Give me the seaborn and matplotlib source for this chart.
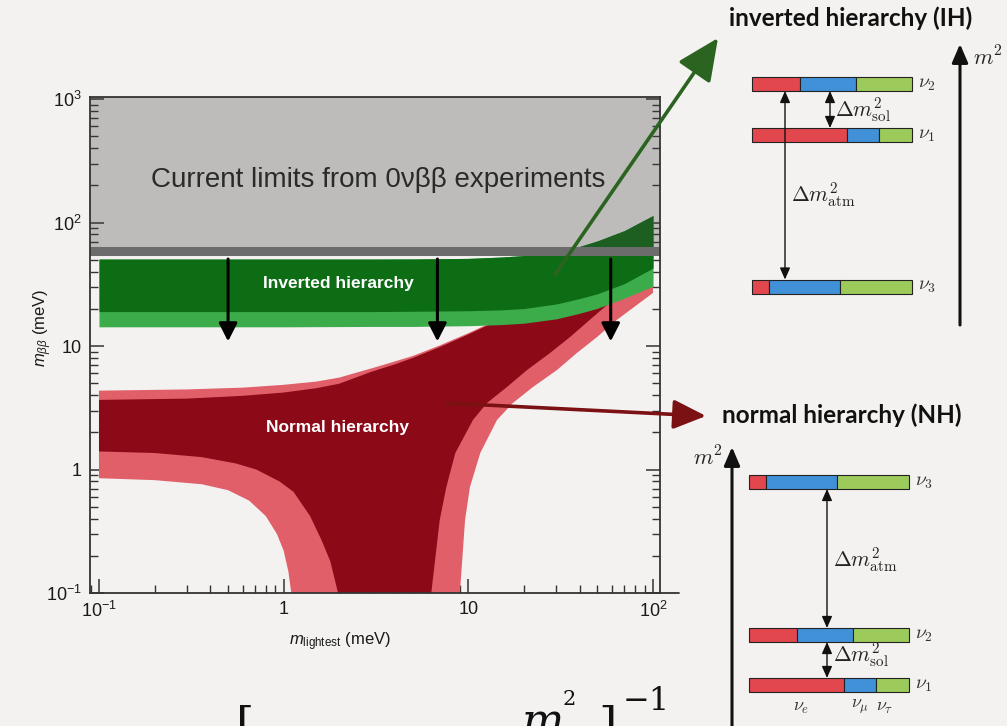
import numpy as np
import matplotlib
matplotlib.use("Agg")
import matplotlib.pyplot as plt
import seaborn as sns
from matplotlib.ticker import FixedLocator, FixedFormatter, LogLocator, NullFormatter

# ------------------------------------------------------------------ data
x_ticks = [0.1, 1, 10, 100]
x_ticklabels = ["$10^{-1}$", "1", "10", "$10^{2}$"]
y_ticks = [0.1, 1, 10, 100, 1000]
y_ticklabels = ["$10^{-1}$", "1", "10", "$10^{2}$", "$10^{3}$"]

limit_mbb = 59.3          # current 0vbb limit (meV)

# inverted hierarchy band (meV)
ih_x = [0.1, 0.3, 1, 3, 5, 10, 15, 20, 30, 40, 50, 70, 100]
ih_top = [50.6, 50.6, 50.6, 50.6, 50.7, 51.2, 52.5, 54.0, 58.5, 64.0, 71.0, 86.0, 114.0]
ih_dark_bot = [19.0, 19.0, 19.0, 19.0, 19.1, 19.3, 19.6, 20.1, 21.9, 24.2, 26.5, 32.0, 42.8]
ih_light_bot = [14.3, 14.3, 14.3, 14.4, 14.4, 14.6, 14.9, 15.3, 16.6, 18.4, 20.2, 24.4, 30.5]

# normal hierarchy band (meV)
nh_top_x = [0.1, 0.3, 0.6, 1, 1.5, 2, 3, 4, 5, 7, 10, 15, 20, 30, 50, 70, 100]
nh_light_top = [4.35, 4.45, 4.6, 4.85, 5.15, 5.55, 6.6, 7.5, 8.3, 10.1, 12.7, 16.8, 21.0, 30.5, 50.5, 70.3, 100.2]
nh_dark_top = [3.66, 3.75, 3.95, 4.2, 4.55, 4.95, 6.2, 7.1, 8.0, 9.8, 12.4, 16.5, 20.8, 30.2, 50.2, 70.0, 100.0]

nh_dark_left_x = [0.1, 0.2, 0.36, 0.55, 0.71, 0.95, 1.13, 1.39, 1.6, 1.79, 1.97]
nh_dark_left_y = [1.40, 1.36, 1.26, 1.12, 1.0, 0.80, 0.66, 0.42, 0.27, 0.18, 0.1]
nh_light_left_x = [0.1, 0.2, 0.36, 0.5, 0.65, 0.8, 0.92, 1.0, 1.06, 1.1]
nh_light_left_y = [0.85, 0.82, 0.76, 0.68, 0.56, 0.42, 0.30, 0.22, 0.15, 0.1]

nh_dark_right_x = [6.3, 7.0, 7.6, 8.5, 10.6, 12.6, 16.2, 20.8, 27.7, 35.5, 45.5, 100]
nh_dark_right_y = [0.1, 0.39, 0.72, 1.36, 2.52, 3.45, 4.66, 6.39, 8.78, 11.8, 16.3, 45.0]
nh_light_right_x = [9.0, 9.6, 10.2, 11.6, 14.3, 17.4, 22.4, 30.2, 38.7, 49.7, 63.8, 100]
nh_light_right_y = [0.1, 0.39, 0.72, 1.36, 2.52, 3.45, 4.66, 6.39, 8.78, 11.8, 16.3, 26.9]

arrow_x = [0.5, 6.8, 59.0]
arrow_y_start = 50.6
arrow_y_end = 10.9

ih_pointer_start = (29.4, 37.6)
nh_pointer_start = (7.65, 3.45)

# flavour content of the mass states nu1, nu2, nu3
states = ["1", "2", "3"]
frac_e = [0.595, 0.30, 0.105]
frac_mu = [0.20, 0.35, 0.445]
frac_tau = [0.205, 0.35, 0.45]

# ------------------------------------------------------------------ style
sns.set_theme(style="ticks")
plt.rcParams["font.family"] = ["Liberation Sans", "DejaVu Sans"]
plt.rcParams["mathtext.fontset"] = "custom"
plt.rcParams["mathtext.rm"] = "Liberation Sans"
plt.rcParams["mathtext.it"] = "Liberation Sans:italic"
plt.rcParams["mathtext.bf"] = "Liberation Sans:bold"

BG = "#f3f2f0"
DG = "#0d6d14"
LG = "#3cab4a"
DR = "#8c0a18"
LR = "#e15f69"
SPINE = "#333333"

W, H = 1007, 726
fig = plt.figure(figsize=(W / 100, H / 100), dpi=100, facecolor=BG)

# overlay axes in pixel coordinates for the level diagrams
dax = fig.add_axes([0, 0, 1, 1], zorder=-1)
dax.set_xlim(0, W)
dax.set_ylim(H, 0)
dax.axis("off")
dax.patch.set_alpha(0)

ax = fig.add_axes([90 / W, (H - 593) / H, 570 / W, 496 / H])
ax.set_facecolor(BG)
ax.set_xscale("log")
ax.set_yscale("log")
ax.set_xlim(0.0894, 109.1)
ax.set_ylim(0.1, 1038)

# NH light band polygon
lx = nh_top_x + nh_light_right_x[::-1] + nh_light_left_x[::-1]
ly = nh_light_top + nh_light_right_y[::-1] + nh_light_left_y[::-1]
ax.fill(lx, ly, color=LR, lw=0, zorder=1.0)
# NH dark band polygon
dx = nh_top_x + nh_dark_right_x[::-1] + nh_dark_left_x[::-1]
dy = nh_dark_top + nh_dark_right_y[::-1] + nh_dark_left_y[::-1]
ax.fill(dx, dy, color=DR, lw=0, zorder=1.1)

# IH bands
ax.fill_between(ih_x, ih_light_bot, ih_top, color=LG, lw=0, zorder=1.2)
ax.fill_between(ih_x, ih_dark_bot, ih_top, color=DG, lw=0, zorder=1.3)

# excluded region + limit line
ax.axhspan(limit_mbb, 1038, color=(0.25, 0.25, 0.25), alpha=0.30, lw=0, zorder=1.5)
ax.axhline(limit_mbb, color="#6c6c6c", lw=6.5, zorder=1.6)

# black arrows
for xa in arrow_x:
    ax.annotate("", xy=(xa, arrow_y_end), xytext=(xa, arrow_y_start),
                arrowprops=dict(arrowstyle="-|>,head_length=0.55,head_width=0.28",
                                color="black", lw=2.2, mutation_scale=20,
                                shrinkA=0, shrinkB=0), zorder=4)

# pointers to the diagrams
ax.annotate("", xy=(718 / W, 1 - 38 / H), xycoords="figure fraction",
            xytext=ih_pointer_start, textcoords="data",
            arrowprops=dict(arrowstyle="-|>,head_length=1.3,head_width=0.6",
                            color="#2b6420", lw=2.6, mutation_scale=20,
                            shrinkA=0, shrinkB=0),
            annotation_clip=False, zorder=5)
ax.annotate("", xy=(706 / W, 1 - 416 / H), xycoords="figure fraction",
            xytext=nh_pointer_start, textcoords="data",
            arrowprops=dict(arrowstyle="-|>,head_length=1.0,head_width=0.45",
                            color="#7b1113", lw=2.6, mutation_scale=20,
                            shrinkA=0, shrinkB=0),
            annotation_clip=False, zorder=5)

# texts
ax.text(0.505, 0.833, "Current limits from 0νββ experiments", transform=ax.transAxes,
        ha="center", va="center", fontsize=20, color="#2a2a2a", zorder=3)
ax.text(0.435, 0.623, "Inverted hierarchy", transform=ax.transAxes, ha="center",
        va="center", fontsize=12.5, weight="bold", color="white", zorder=3)
ax.text(0.435, 0.333, "Normal hierarchy", transform=ax.transAxes, ha="center",
        va="center", fontsize=12.5, weight="bold", color="white", zorder=3)

# ticks
ax.xaxis.set_major_locator(FixedLocator(x_ticks))
ax.xaxis.set_major_formatter(FixedFormatter(x_ticklabels))
ax.yaxis.set_major_locator(FixedLocator(y_ticks))
ax.yaxis.set_major_formatter(FixedFormatter(y_ticklabels))
for axis in (ax.xaxis, ax.yaxis):
    axis.set_minor_locator(LogLocator(base=10, subs=np.arange(2, 10), numticks=30))
    axis.set_minor_formatter(NullFormatter())
ax.tick_params(which="both", direction="in", top=False, right=True, color=SPINE,
               labelcolor="#1a1a1a")
ax.tick_params(which="major", length=10, width=1.1, labelsize=13, pad=6)
ax.tick_params(which="minor", length=5.5, width=1.0)
for s in ax.spines.values():
    s.set_color(SPINE)
    s.set_linewidth(1.3)
ax.plot([1.0, (679 - 90) / 570], [0, 0], transform=ax.transAxes, color=SPINE,
        lw=1.3, clip_on=False, zorder=3)

ax.set_xlabel("$m_{\\rm lightest}$ (meV)", fontsize=12, color="#1a1a1a")
ax.xaxis.set_label_coords(0.4386, -0.075)
ax.set_ylabel("$m_{\\beta\\beta}$ (meV)", fontsize=12, color="#1a1a1a")
ax.yaxis.set_label_coords(-0.064, 0.534)

# ------------------------------------------------------------------ level diagrams
RED = "#e2474d"
BLUE = "#4191d8"
GREEN = "#9ccb5c"
L = 160
BH = 14
fe = np.array(frac_e) * L
fm = np.array(frac_mu) * L
ft = np.array(frac_tau) * L


def diagram(x0, ys):
    ys = np.array(ys)
    kw = dict(height=BH, edgecolor="#222222", linewidth=0.8)
    dax.barh(ys, fe, left=x0, color=RED, **kw)
    dax.barh(ys, fm, left=x0 + fe, color=BLUE, **kw)
    dax.barh(ys, ft, left=x0 + fe + fm, color=GREEN, **kw)
    for s, y in zip(states, ys):
        dax.text(x0 + L + 6, y, "$\\nu_%s$" % s, math_fontfamily="cm",
                 fontsize=14, ha="left", va="center", color="#333333")


def dbl(x, y1, y2):
    dax.annotate("", xy=(x, y2), xytext=(x, y1),
                 arrowprops=dict(arrowstyle="<|-|>,head_length=0.5,head_width=0.22",
                                 color="#111111", lw=1.0, mutation_scale=14,
                                 shrinkA=0, shrinkB=0))


def up_arrow(x, y1, y2):
    dax.annotate("", xy=(x, y2), xytext=(x, y1),
                 arrowprops=dict(arrowstyle="-|>,head_length=0.7,head_width=0.3",
                                 color="#111111", lw=2.2, mutation_scale=16,
                                 shrinkA=0, shrinkB=0), annotation_clip=False)


# IH : nu1, nu2, nu3 centres
ih_y = [135, 84, 286.5]
diagram(752, ih_y)
dbl(830, 84 + BH / 2, 135 - BH / 2)
dbl(785, 84 + BH / 2, 286.5 - BH / 2)
dax.text(835, 110, "$\\Delta m^2_{\\rm sol}$", math_fontfamily="cm", fontsize=15.5,
         ha="left", va="center", color="#222222")
dax.text(791, 195, "$\\Delta m^2_{\\rm atm}$", math_fontfamily="cm", fontsize=15.5,
         ha="left", va="center", color="#222222")
up_arrow(960, 325, 44)
dax.text(973, 58, "$m^2$", math_fontfamily="cm", fontsize=16, ha="left",
         va="center", color="#222222")
dax.text(851, 18, "inverted hierarchy (IH)", family="Lato", weight="bold",
         fontsize=17.5, ha="center", va="center", color="#111111")

# NH : nu1, nu2, nu3 centres
nh_y = [685, 635, 482]
diagram(749, nh_y)
dbl(827, 482 + BH / 2, 635 - BH / 2)
dbl(827, 635 + BH / 2, 685 - BH / 2)
dax.text(833, 560, "$\\Delta m^2_{\\rm atm}$", math_fontfamily="cm", fontsize=15.5,
         ha="left", va="center", color="#222222")
dax.text(833, 655, "$\\Delta m^2_{\\rm sol}$", math_fontfamily="cm", fontsize=15.5,
         ha="left", va="center", color="#222222")
up_arrow(732, 740, 447)
dax.text(708, 458, "$m^2$", math_fontfamily="cm", fontsize=16, ha="center",
         va="center", color="#222222")
for lab, xx in zip(["e", "\\mu", "\\tau"], [801, 860, 885]):
    dax.text(xx, 707, "$\\nu_{%s}$" % lab, math_fontfamily="cm", fontsize=13,
             ha="center", va="center", color="#333333")
dax.text(842, 415, "normal hierarchy (NH)", family="Lato", weight="bold",
         fontsize=17.5, ha="center", va="center", color="#111111")

# partially visible formula at the bottom
dax.text(236, 741, "[", family="DejaVu Serif", fontsize=34, ha="left",
         va="baseline", color="#111111")
dax.text(522, 735, "m", family="DejaVu Serif", style="italic", fontsize=32,
         ha="left", va="baseline", color="#111111")
dax.text(563, 705, "2", family="DejaVu Serif", fontsize=15, ha="left",
         va="baseline", color="#111111")
dax.text(598, 741, "]", family="DejaVu Serif", fontsize=34, ha="left",
         va="baseline", color="#111111")
dax.text(623, 710, "−1", family="DejaVu Serif", fontsize=23, ha="left",
         va="baseline", color="#111111")

fig.savefig("out.png", dpi=100, facecolor=BG)
